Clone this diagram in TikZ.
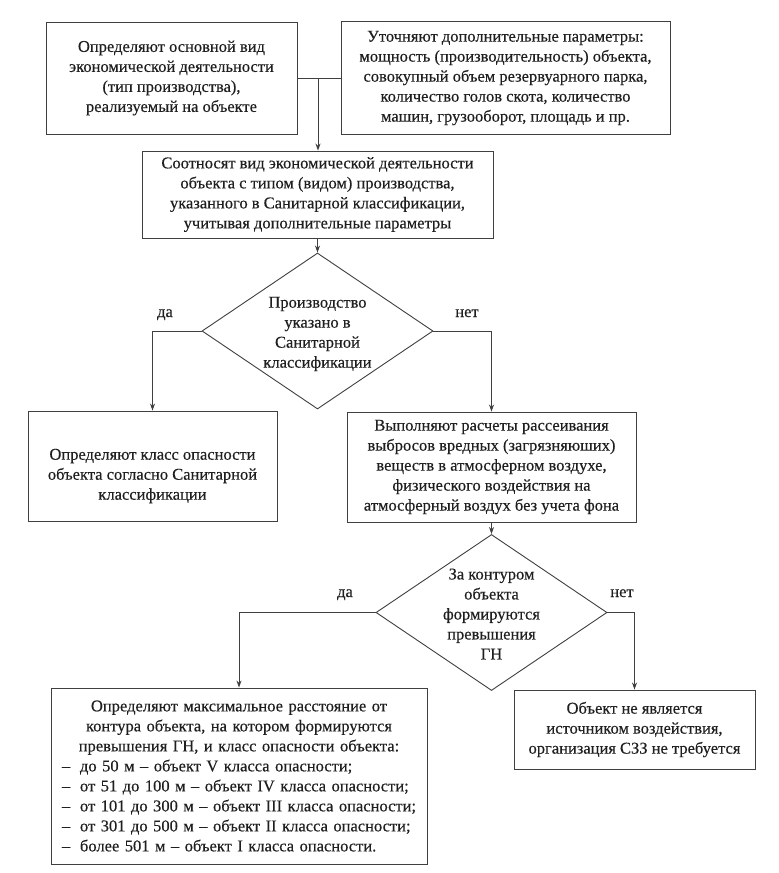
\documentclass[tikz,border=0pt]{standalone}
\usepackage{fontspec}
\setmainfont{Liberation Serif}[FakeBold=0.3]
\usetikzlibrary{arrows.meta,shapes.geometric}
\setlength\parindent{0pt}
\begin{document}
\begin{tikzpicture}[x=1pt,y=-1pt,
  txt/.style={font=\fontsize{16.5}{20}\selectfont, text=black!88},
  box/.style={draw=black!75, line width=0.9pt, rectangle, inner sep=0pt, align=center, txt},
  dia/.style={draw=black!75, line width=0.9pt, diamond, inner sep=0pt, minimum width=231pt, minimum height=156pt},
  arr/.style={draw=black!75, line width=0.9pt, -{Stealth[length=7pt,width=5pt]}},
  conn/.style={draw=black!75, line width=0.9pt},
  lbl/.style={txt, inner sep=0pt, anchor=base}
]
\useasboundingbox (0,0) rectangle (779,873);
\fill[white] (0,0) rectangle (779,873);

% boxes
\node[box, minimum width=251pt, minimum height=112pt] (b1) at (171.5,78)
  {Определяют основной вид\\экономической деятельности\\(тип производства),\\реализуемый на объекте};
\node[box, minimum width=329pt, minimum height=113pt] (b2) at (505.5,78)
  {Уточняют дополнительные параметры:\\мощность (производительность) объекта,\\совокупный объем резервуарного парка,\\количество голов скота, количество\\машин, грузооборот, площадь и пр.};
\node[box, minimum width=351pt, minimum height=87pt] (b3) at (317.5,194.5)
  {Соотносят вид экономической деятельности\\объекта с типом (видом) производства,\\указанного в Санитарной классификации,\\учитывая дополнительные параметры};

\node[dia] (d1) at (317.5,331) {};
\node[txt, align=center, inner sep=0pt] (d1t) at (317.5,334)
  {Производство\\указано в\\Санитарной\\классификации};

\node[box, minimum width=249pt, minimum height=110pt] (b4) at (152.5,466) {};
\node[txt, align=center, inner sep=0pt] (b4t) at (152.5,476)
  {Определяют класс опасности\\объекта согласно Санитарной\\классификации};

\node[box, minimum width=289pt, minimum height=110pt] (b5) at (491.5,467)
  {Выполняют расчеты рассеивания\\выбросов вредных (загрязняюших)\\веществ в атмосферном воздухе,\\физического воздействия на\\атмосферный воздух без учета фона};

\node[dia] (d2) at (491.5,612.5) {};
\node[txt, align=center, inner sep=0pt] (d2t) at (491.5,614)
  {За контуром\\объекта\\формируются\\превышения\\ГН};

\node[box, align=left, minimum width=376pt, minimum height=176pt, text width=362pt, inner xsep=7pt] (b6) at (239,776)
  {\centering Определяют максимальное расстояние от\\контура объекта, на котором формируются\\превышения ГН, и класс опасности объекта:\par
   \raggedright\leftskip=4pt\parfillskip=0pt plus 1fil
   \makebox[18pt][l]{–}до 50 м – объект V класса опасности;\\
   \makebox[18pt][l]{–}от 51 до 100 м – объект IV класса опасности;\\
   \makebox[18pt][l]{–}от 101 до 300 м – объект III класса опасности;\\
   \makebox[18pt][l]{–}от 301 до 500 м – объект II класса опасности;\\
   \makebox[18pt][l]{–}более 501 м – объект I класса опасности.\par};

\node[box, minimum width=241pt, minimum height=79pt] (b7) at (634.5,729.5)
  {Объект не является\\источником воздействия,\\организация СЗЗ не требуется};

% labels
\node[lbl] (l1) at (165,317) {да};
\node[lbl] (l2) at (467,317) {нет};
\node[lbl] (l3) at (345,597) {да};
\node[lbl] (l4) at (622,597) {нет};

% connectors
\draw[conn] (b1.east) -- (b2.west);
\coordinate (j) at (318,78);
\draw[arr] (j) -- (j |- b3.north);
\draw[arr] (b3.south) -- (d1.north);
\draw[arr] (d1.west) -| (b4.north);
\draw[arr] (d1.east) -| (b5.north);
\draw[arr] (b5.south) -- (d2.north);
\draw[arr] (d2.west) -| (b6.north);
\draw[arr] (d2.east) -| (b7.north);
\end{tikzpicture}
\end{document}
